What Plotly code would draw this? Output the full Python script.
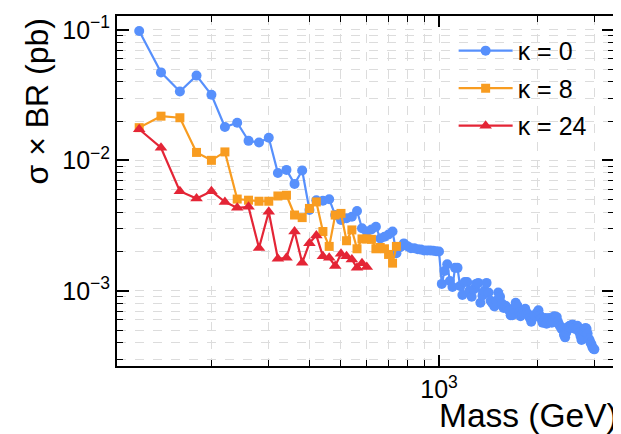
import plotly.graph_objects as go

# ---------------- data ----------------
mass_k0 = [120, 140, 160, 180, 200, 220, 240, 260, 280, 300,
           320, 340, 360, 380, 400, 420, 440, 460, 480, 500,
           520, 540, 560, 580, 600, 620, 640, 660, 680, 700,
           720, 740, 760, 780, 800, 820, 840, 860, 880, 900,
           920, 940, 960, 980, 1000, 1020, 1040, 1060, 1080, 1100,
           1120, 1140, 1160, 1180, 1200, 1220, 1240, 1260, 1280, 1300,
           1320, 1340, 1360, 1380, 1400, 1420, 1440, 1460, 1480, 1500,
           1520, 1540, 1560, 1580, 1600, 1620, 1640, 1660, 1680, 1700,
           1720, 1740, 1760, 1780, 1800, 1820, 1840, 1860, 1880, 1900,
           1920, 1940, 1960, 1980, 2000, 2020, 2040, 2060, 2080, 2100,
           2120, 2140, 2160, 2180, 2200, 2220, 2240, 2260, 2280, 2300,
           2320, 2340, 2360, 2380, 2400, 2420, 2440, 2460, 2480, 2500,
           2520, 2540, 2560, 2580, 2600, 2620, 2640, 2660, 2680, 2700,
           2720, 2740, 2760, 2780, 2800, 2820, 2840, 2860, 2880, 2900,
           2920, 2940, 2960, 2980, 3000]
xsec_k0 = [0.098, 0.0472, 0.0337, 0.0446, 0.0318, 0.0180, 0.0194, 0.0141, 0.0137, 0.0149,
           0.0080, 0.00845, 0.0066, 0.00835, 0.00416, 0.00495, 0.00490, 0.00504, 0.00381, 0.00349,
           0.00360, 0.00370, 0.00409, 0.00302, 0.00285, 0.00295, 0.00310, 0.00252, 0.00260, 0.00270,
           0.00285, 0.00194, 0.00216, 0.00231, 0.00220, 0.00212, 0.00212, 0.00208, 0.00207, 0.00204,
           0.00204, 0.00204, 0.00203, 0.00201, 0.00200, 0.00113, 0.00142, 0.00160, 0.00119, 0.00107,
           0.00150, 0.00150, 0.00109, 0.00093, 0.00117, 0.00117, 0.00100, 0.00090, 0.00103, 0.00113,
           0.00115, 0.00081, 0.00092, 0.00100, 0.00115, 0.00097, 0.00084, 0.00080, 0.00076, 0.00084,
           0.00097, 0.00090, 0.00080, 0.00074, 0.00077, 0.00074, 0.00071, 0.00065, 0.00065, 0.00073,
           0.00081, 0.00077, 0.00068, 0.00064, 0.00067, 0.00071, 0.00073, 0.00068, 0.00066, 0.00062,
           0.00058, 0.00062, 0.00065, 0.00064, 0.00068, 0.00071, 0.00065, 0.00061, 0.00057, 0.00059,
           0.00062, 0.00056, 0.00059, 0.00062, 0.00059, 0.00057, 0.00059, 0.00064, 0.00062, 0.00063,
           0.00058, 0.00055, 0.00053, 0.00051, 0.00052, 0.00046, 0.00044, 0.00048, 0.00051, 0.00053,
           0.00054, 0.00052, 0.00055, 0.00055, 0.00052, 0.00051, 0.00053, 0.00054, 0.00052, 0.00048,
           0.00045, 0.00042, 0.00044, 0.00049, 0.00051, 0.00052, 0.00051, 0.00047, 0.00043, 0.00042,
           0.00040, 0.00039, 0.00037, 0.00036, 0.000356]

mass_k8 = [120, 140, 160, 180, 200, 220, 240, 260, 280, 300,
           320, 340, 360, 380, 400, 420, 440, 460, 480, 500,
           520, 540, 560, 580, 600, 620, 640, 660, 680, 700,
           720, 740]
xsec_k8 = [0.0178, 0.0218, 0.0212, 0.0115, 0.0100, 0.0116, 0.00505, 0.00495, 0.00486, 0.00486,
           0.00533, 0.00540, 0.00381, 0.00364, 0.00428, 0.00480, 0.00285, 0.00219, 0.00381, 0.00392,
           0.00242, 0.00293, 0.00210, 0.00250, 0.00250, 0.00248, 0.00210, 0.00215, 0.00210, 0.00190,
           0.00163, 0.00219]

mass_k24 = [120, 140, 160, 180, 200, 220, 240, 260, 280, 300,
            320, 340, 360, 380, 400, 420, 440, 460, 480, 500,
            520, 540, 560, 580, 600]
xsec_k24 = [0.0173, 0.0125, 0.0058, 0.0051, 0.0058, 0.0048, 0.00433, 0.00440, 0.00213, 0.00404,
            0.00176, 0.00179, 0.00285, 0.00164, 0.00232, 0.00266, 0.00184, 0.00179, 0.00155, 0.00192,
            0.00184, 0.00174, 0.00150, 0.00163, 0.00152]

labels = ["κ = 0", "κ = 8", "κ = 24"]
x_major = [1000]
x_major_text = ["10<sup>3</sup>"]
x_minor = [200, 300, 400, 500, 600, 700, 800, 900, 2000, 3000]
y_major = [1e-3, 1e-2, 1e-1]
y_major_text = ["10<sup>−3</sup>", "10<sup>−2</sup>", "10<sup>−1</sup>"]
y_minor = [3e-4, 4e-4, 5e-4, 6e-4, 7e-4, 8e-4, 9e-4,
           2e-3, 3e-3, 4e-3, 5e-3, 6e-3, 7e-3, 8e-3, 9e-3,
           2e-2, 3e-2, 4e-2, 5e-2, 6e-2, 7e-2, 8e-2, 9e-2]

assert len(mass_k0) == len(xsec_k0)
assert len(mass_k8) == len(xsec_k8)
assert len(mass_k24) == len(xsec_k24)

# ---------------- figure ----------------
# The page body has an 8 px default margin, so the figure is sized 8 px
# smaller than the window and its margins are shifted accordingly.
FONT = "Liberation Sans, Arial, sans-serif"
colors = ["#5790fc", "#f89c20", "#e42536"]
symbols = ["circle", "square", "triangle-up"]
sizes = [10, 9, 11]
series = [(mass_k0, xsec_k0), (mass_k8, xsec_k8), (mass_k24, xsec_k24)]

fig = go.Figure()
for i, (mx, ys) in enumerate(series):
    fig.add_trace(go.Scatter(
        x=mx, y=ys, mode="lines+markers", name=labels[i],
        legendgroup=f"g{i}",
        line=dict(color=colors[i], width=2.2),
        marker=dict(color=colors[i], symbol=symbols[i], size=sizes[i], line=dict(width=0)),
    ))

grid_col = "#dcdcdc"
axis_common = dict(
    type="log", showline=True, linewidth=2, linecolor="black", mirror="allticks",
    ticks="inside", tickwidth=1.5, tickcolor="black",
    showgrid=True, gridcolor=grid_col, griddash="dash", gridwidth=1,
    tickfont=dict(family=FONT, size=25, color="black"),
    zeroline=False,
)

fig.update_xaxes(**axis_common, range=[2.011, 3.5375], tickmode="array",
                 tickvals=x_major, ticktext=x_major_text, ticklen=11,
                 minor=dict(tickmode="array", tickvals=x_minor, ticks="inside", ticklen=6,
                            tickwidth=1.2, tickcolor="black", showgrid=True,
                            gridcolor=grid_col, griddash="dash", gridwidth=1))
fig.update_yaxes(**axis_common, range=[-3.576, -0.894], tickmode="array",
                 tickvals=y_major, ticktext=y_major_text, ticklen=12,
                 minor=dict(tickmode="array", tickvals=y_minor, ticks="inside", ticklen=6,
                            tickwidth=1.2, tickcolor="black", showgrid=True,
                            gridcolor=grid_col, griddash="dash", gridwidth=1))

fig.update_layout(
    width=613, height=426,
    margin=dict(l=109, r=7, t=4, b=68),
    paper_bgcolor="white", plot_bgcolor="white",
    font=dict(family=FONT, color="black"),
    showlegend=True,
    legend=dict(x=0.955, xanchor="right", y=0.966, yanchor="top",
                bgcolor="rgba(0,0,0,0)", font=dict(family=FONT, size=25),
                tracegroupgap=2, itemwidth=54),
    annotations=[
        dict(text="Mass (GeV)", xref="paper", yref="paper", x=1.012, y=-0.141,
             xanchor="right", yanchor="middle", showarrow=False,
             font=dict(family=FONT, size=33.5, color="black")),
        dict(text="σ × BR (pb)", xref="paper", yref="paper", x=-0.16, y=1.0,
             xanchor="center", yanchor="top", textangle=-90, showarrow=False,
             font=dict(family=FONT, size=32, color="black")),
    ],
)

fig.write_html("out.html")
